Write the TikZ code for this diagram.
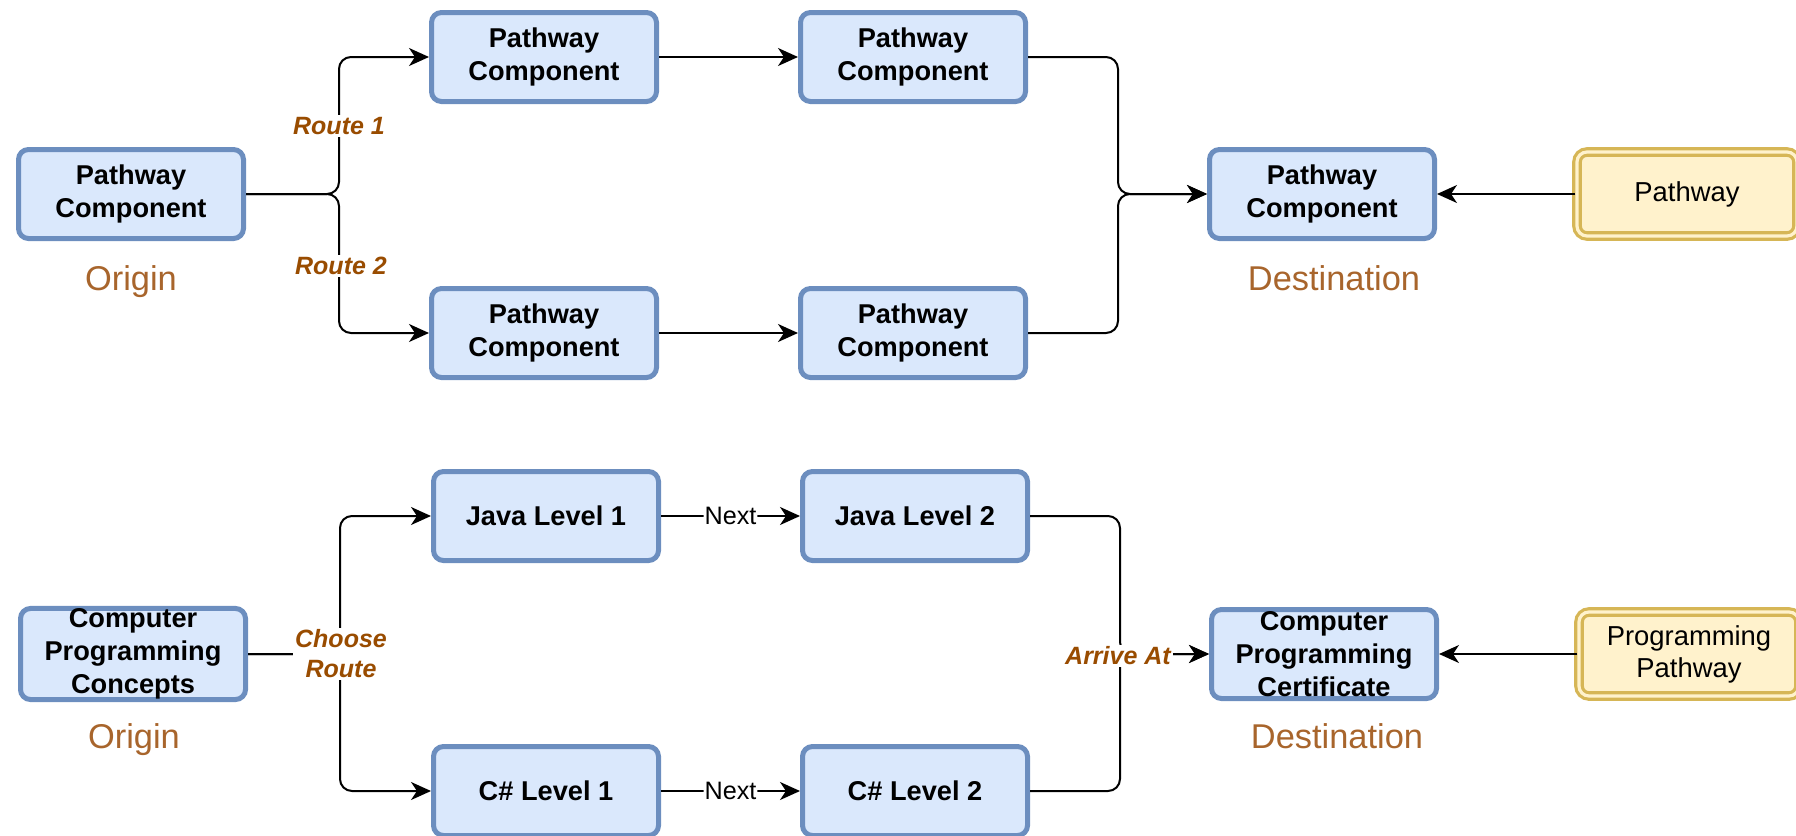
\documentclass[tikz,border=0pt]{standalone}
\usepackage{fontspec}
\setmainfont{Liberation Sans}
\usetikzlibrary{arrows.meta}
\definecolor{boxfill}{HTML}{DAE8FC}
\definecolor{boxline}{HTML}{6C8EBF}
\definecolor{wayfill}{HTML}{FFF2CC}
\definecolor{wayline}{HTML}{D6B656}
\definecolor{routebrown}{HTML}{994C00}
\definecolor{placebrown}{HTML}{A8652C}
\tikzset{comp/.style = {rectangle, rounded corners=5pt, draw=boxline, fill=boxfill, line width=2.5pt,
                        minimum width=112.5pt, minimum height=44.5pt, inner sep=0pt, align=center,
                        font=\bfseries\fontsize{13.6}{16.6}\selectfont},
         way/.style = {rectangle, rounded corners=5pt, draw=wayline, double=wayfill, double distance=1.6pt,
                       line width=1.6pt, fill=wayfill, minimum width=110pt, minimum height=42pt,
                       inner sep=0pt, align=center, font=\fontsize{13.7}{16}\selectfont},
         route/.style = {fill=white, text=routebrown, inner sep=1pt, align=center,
                         font=\bfseries\itshape\fontsize{12.5}{15}\selectfont},
         place/.style = {text=placebrown, font=\fontsize{17.2}{20}\selectfont},
         next/.style = {fill=white, inner sep=0.5pt, font=\fontsize{12.6}{14}\selectfont},
         link/.style = {line width=1pt, rounded corners=6pt, -{Stealth[length=10pt,width=9pt,inset=3pt]}}}

\begin{document}
\begin{tikzpicture}[x=0.5pt, y=-0.5pt]
            \useasboundingbox (0,0) rectangle (1796,836);

            \node [comp] (o1) at (131, 194) {Pathway\\Component};
            \node [comp] (a1) at (544, 57) {Pathway\\Component};
            \node [comp] (a2) at (913, 57) {Pathway\\Component};
            \node [comp] (b1) at (544, 333) {Pathway\\Component};
            \node [comp] (b2) at (913, 333) {Pathway\\Component};
            \node [comp] (d1) at (1322, 194) {Pathway\\Component};
            \node [way] (w1) at (1687, 194) {Pathway};
            \node [place] (l1) at (131, 282) {Origin};
            \node [place] (l2) at (1334, 278) {Destination};

            \coordinate (s1) at (339, 194);
            \coordinate (m1) at (1118, 194);
            \draw [link] (o1.east) -- (s1) |- (a1.west);
            \draw [link] (o1.east) -- (s1) |- (b1.west);
            \draw [link] (a1) -- (a2);
            \draw [link] (b1) -- (b2);
            \draw [link] (a2.east) -| (m1) -- (d1.west);
            \draw [link] (b2.east) -| (m1) -- (d1.west);
            \draw [link] (w1) -- (d1);
            \node [route] (r1) at (339, 126) {Route 1};
            \node [route] (r2) at (341, 266) {Route 2};

            \node [comp] (o2) at (133, 654) {Computer\\Programming\\Concepts};
            \node [comp] (j1) at (546, 516) {Java Level 1};
            \node [comp] (j2) at (915, 516) {Java Level 2};
            \node [comp] (c1) at (546, 791) {C\# Level 1};
            \node [comp] (c2) at (915, 791) {C\# Level 2};
            \node [comp] (d2) at (1324, 654) {Computer\\Programming\\Certificate};
            \node [way] (w2) at (1689, 654) {Programming\\Pathway};
            \node [place] (l3) at (134, 740) {Origin};
            \node [place] (l4) at (1337, 736) {Destination};

            \coordinate (s2) at (340, 654);
            \coordinate (m2) at (1120, 654);
            \draw [link] (o2.east) -- (s2) |- (j1.west);
            \draw [link] (o2.east) -- (s2) |- (c1.west);
            \draw [link] (j1) -- node [next] {Next} (j2);
            \draw [link] (c1) -- node [next] {Next} (c2);
            \draw [link] (j2.east) -| (m2) -- (d2.west);
            \draw [link] (c2.east) -| (m2) -- (d2.west);
            \draw [link] (w2) -- (d2);
            \node [route] (r3) at (341, 654) {Choose\\Route};
            \node [route] (r4) at (1118, 656) {Arrive At};
        \end{tikzpicture}
\end{document}
